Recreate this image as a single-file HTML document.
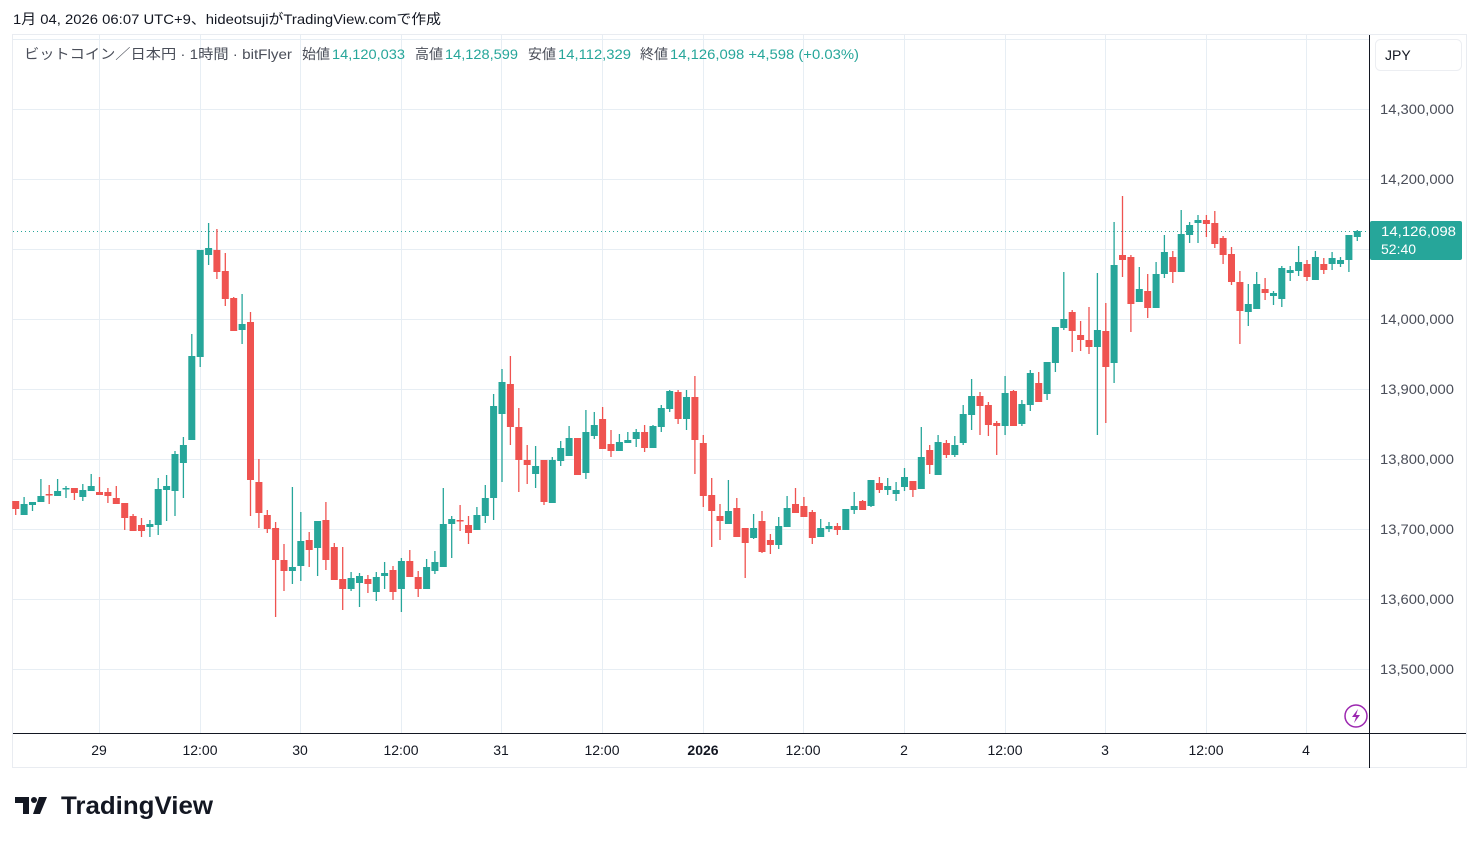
<!DOCTYPE html>
<html><head><meta charset="utf-8">
<style>
html,body{margin:0;padding:0;background:#fff;width:1479px;height:843px;overflow:hidden;font-family:"Liberation Sans","Noto Sans CJK JP",sans-serif;}
svg text{font-family:"Liberation Sans","Noto Sans CJK JP",sans-serif;}
</style></head><body>
<svg id="s" width="1479" height="843" xmlns="http://www.w3.org/2000/svg">
<text x="13" y="24" font-size="14" fill="#131722" textLength="428" lengthAdjust="spacingAndGlyphs">1月 04, 2026 06:07 UTC+9、hideotsujiがTradingView.comで作成</text>
<rect x="12.5" y="34.5" width="1454" height="733" fill="none" stroke="#e9ecf1" stroke-width="1"/>
<g id="grid" stroke="#e7eef4" stroke-width="1"></g>
<line x1="13" y1="231.5" x2="1369" y2="231.5" stroke="#26a69a" stroke-width="1" stroke-dasharray="1,3"/>
<g id="candles"></g>
<line x1="1369.5" y1="35" x2="1369.5" y2="768" stroke="#131722" stroke-width="1"/>
<line x1="13" y1="733.5" x2="1466" y2="733.5" stroke="#131722" stroke-width="1"/>
<g id="ylab" font-size="14" fill="#4a4e59"></g>
<g id="xlab" font-size="14" fill="#131722" text-anchor="middle"></g>
<rect x="1375.5" y="39.5" width="86" height="31" rx="5" fill="#fff" stroke="#eceef2"/>
<text x="1385" y="60" font-size="14" fill="#131722">JPY</text>
<rect x="1370" y="221" width="92" height="39" rx="2" fill="#26a69a"/>
<text x="1381" y="236" font-size="14" fill="#fff" textLength="75" lengthAdjust="spacingAndGlyphs">14,126,098</text>
<text x="1381" y="254" font-size="14" fill="#fff">52:40</text>
<g font-size="14" fill="#4a4e59">
<text x="24" y="59" textLength="268" lengthAdjust="spacingAndGlyphs">ビットコイン／日本円 · 1時間 · bitFlyer</text>
<text x="302" y="59">始値</text><text x="332" y="59" fill="#26a69a" textLength="73" lengthAdjust="spacingAndGlyphs">14,120,033</text>
<text x="415" y="59">高値</text><text x="445" y="59" fill="#26a69a" textLength="73" lengthAdjust="spacingAndGlyphs">14,128,599</text>
<text x="528" y="59">安値</text><text x="558" y="59" fill="#26a69a" textLength="73" lengthAdjust="spacingAndGlyphs">14,112,329</text>
<text x="640" y="59">終値</text><text x="670" y="59" fill="#26a69a" textLength="189" lengthAdjust="spacingAndGlyphs">14,126,098 +4,598 (+0.03%)</text>
</g>
<circle cx="1356" cy="716" r="11" fill="#fff" stroke="#9c27b0" stroke-width="1.5"/>
<path d="M1358 709 L1352 717 L1356 717 L1354 723 L1360 715 L1356 715 Z" fill="#9c27b0"/>
<g fill="#131722">
<path d="M15 797 h14 v17 h-6 v-11 h-8 z"/>
<circle cx="34" cy="800" r="3"/>
<path d="M39 797 h8 l-7 17 h-7 z"/>
<text x="61" y="814" font-size="25" font-weight="bold" textLength="152" lengthAdjust="spacingAndGlyphs">TradingView</text>
</g>
</svg>
<script>
var NS="http://www.w3.org/2000/svg";
function el(p,t,a,txt){var e=document.createElementNS(NS,t);for(var k in a)e.setAttribute(k,a[k]);if(txt!==undefined)e.textContent=txt;p.appendChild(e);return e;}
var g=document.getElementById('grid');
var hy=[39,109,179,249,319,389,459,529,599,669];
hy.forEach(function(y){el(g,'line',{x1:13,x2:1369,y1:y+.5,y2:y+.5});});
var vx=[99,200,300,401,501,602,703,803,904,1005,1105,1206,1306];
vx.forEach(function(x){el(g,'line',{x1:x+.5,x2:x+.5,y1:35,y2:733});});
var yl=document.getElementById('ylab');
var pl=['14,300,000','14,200,000','14,100,000','14,000,000','13,900,000','13,800,000','13,700,000','13,600,000','13,500,000'];
pl.forEach(function(t,i){var y=109+i*70;if(t==='14,100,000')return;el(yl,'text',{x:1380,y:y+5,textLength:74,lengthAdjust:'spacingAndGlyphs'},t);});
var xl=document.getElementById('xlab');
var xt=['29','12:00','30','12:00','31','12:00','2026','12:00','2','12:00','3','12:00','4'];
xt.forEach(function(t,i){var a={x:vx[i],y:755};if(t==='2026')a['font-weight']='bold';el(xl,'text',a,t);});
var D=[[501,509,501,515],[515,504,497,515],[505,502,502,511],[502,496,479,502],[494,495,485,504],[496,491,479,496],[489,488,486,498],[488,493,488,500],[497,490,484,501],[491,486,474,491],
[492,495,477,495],[492,496,488,503],[498,504,486,504],[503,518,503,530],[516,531,514,531],[525,531,518,537],[527,524,520,537],[525,489,478,535],[490,486,475,521],[491,454,451,516],
[463,445,437,498],[440,356,334,440],[357,250,250,367],[255,248,223,265],[250,272,229,279],[271,299,253,306],[298,331,297,331],[330,324,294,344],[322,480,312,516],[482,513,459,528],
[515,529,510,533],[528,560,522,617],[560,571,544,591],[571,567,487,584],[566,541,512,581],[540,550,532,567],[548,521,521,576],[520,560,502,570],[547,580,543,580],[579,589,547,610],
[589,578,572,591],[583,576,573,607],[579,584,575,593],[592,577,572,601],[576,573,562,589],[570,592,566,600],[589,561,558,612],[561,577,550,577],[577,589,571,597],[589,567,559,589],
[571,562,551,574],[567,524,488,567],[524,519,516,558],[520,521,505,531],[525,533,516,544],[530,515,507,530],[516,498,485,523],[498,406,394,520],[414,382,369,482],[384,427,356,445],
[427,460,408,492],[460,465,445,484],[474,466,446,488],[460,502,460,505],[503,460,457,503],[461,448,441,466],[456,438,426,456],[438,475,438,475],[473,432,410,479],[436,425,412,439],
[419,449,407,449],[444,451,430,457],[451,442,434,451],[443,440,432,443],[439,432,429,447],[432,448,425,452],[448,426,425,448],[427,408,405,432],[409,391,390,412],[392,419,390,424],
[419,397,390,430],[397,440,376,474],[443,496,435,507],[495,511,478,547],[516,521,504,540],[524,511,480,524],[508,537,498,537],[528,543,528,578],[538,528,514,539],[521,552,511,553],
[540,545,534,554],[545,526,517,549],[527,508,496,527],[504,513,488,513],[506,517,497,517],[512,538,510,544],[537,528,519,537],[529,526,522,532],[526,530,523,535],[530,509,509,530],
[510,506,492,514],[501,510,500,510],[506,480,480,507],[483,490,477,493],[490,486,478,495],[494,490,482,501],[487,477,468,491],[481,490,481,497],[489,457,427,489],[450,465,445,474],
[475,442,435,475],[443,455,440,458],[455,445,436,457],[443,414,405,445],[415,396,379,430],[396,406,392,435],[405,425,402,436],[423,426,421,455],[426,393,376,435],[391,426,390,426],
[424,404,400,426],[405,373,370,411],[383,402,372,402],[394,362,362,400],[363,327,327,372],[328,319,272,330],[312,331,310,352],[335,340,321,351],[340,347,307,354],[347,330,273,435],
[331,367,303,423],[363,265,222,383],[255,260,196,277],[257,304,255,332],[302,289,267,302],[291,308,274,318],[308,274,262,308],[274,252,235,278],[257,272,251,283],[272,234,210,272],
[235,225,222,243],[223,220,215,243],[220,224,215,237],[223,244,211,248],[238,255,236,264],[254,282,247,285],[282,311,271,344],[312,304,284,326],[309,284,272,309],[289,293,278,300],
[296,293,291,305],[299,268,266,307],[273,270,266,281],[271,262,246,276],[264,277,260,281],[280,257,251,280],[264,270,258,274],[264,258,252,270],[264,260,257,267],[260,235,235,272],
[237,231,230,241]];
var c=document.getElementById('candles');
D.forEach(function(d,i){
 var x=15.7+i*8.385;var up=d[1]<d[0];var col=up?'#26a69a':'#ef5350';
 var t=Math.min(d[0],d[1]),b=Math.max(d[0],d[1]);
 el(c,'line',{x1:x.toFixed(1),x2:x.toFixed(1),y1:d[2],y2:d[3],stroke:col,'stroke-width':1.3});
 el(c,'rect',{x:(x-3.5).toFixed(1),y:t,width:7,height:Math.max(1.5,b-t),fill:col});
});
</script>
</body></html>
